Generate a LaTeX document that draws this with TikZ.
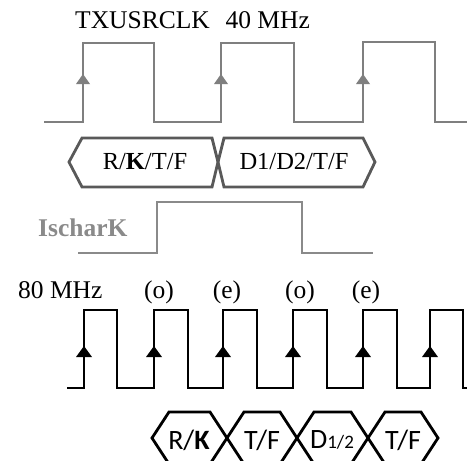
\documentclass[tikz,border=0pt]{standalone}
\usepackage{fontspec}
\setmainfont{Liberation Serif}
\newfontfamily\calibri{Carlito}
\definecolor{clkgrey}{HTML}{7F7F7F}
\definecolor{busgrey}{HTML}{595959}
\definecolor{flaggrey}{HTML}{8A8A8A}

\begin{document}
\begin{tikzpicture}[
    x=1pt, y=-1pt,
    wave/.style={draw=#1, line width=2.8pt, line join=miter},
    bus/.style={draw=#1, line width=2.8pt, line join=miter},
    edgetip/.style={fill=#1},
    lbl/.style={font=\fontsize{25.5}{30}\selectfont, anchor=base west, inner sep=0pt},
    phase/.style={font=\fontsize{25.5}{30}\selectfont, anchor=base, inner sep=0pt},
    buslbl/.style={font=\fontsize{24.5}{30}\selectfont, inner sep=0pt},
    symlbl/.style={font=\calibri\fontsize{28}{32}\selectfont, inner sep=0pt},
]
\useasboundingbox[fill=white] (0,0) rectangle (467,461);

% ════════════════════════════════════════
% TXUSRCLK 40 MHz
% ════════════════════════════════════════
\node[lbl] (txclk) at (75,28) {TXUSRCLK\hspace{0.62em}40 MHz};

\draw[wave=clkgrey] (44,122) -| (83,43) -| (154,122) -| (221,43) -| (294,122)
    -| (363,42) -| (435,122) -- (467,122);

% rising edges
\foreach \x in {83,221,363}
    \fill[edgetip=clkgrey] (\x-7,84) -- (\x+7,84) -- (\x,74) -- cycle;

% ════════════════════════════════════════
% 40 MHz data bus
% ════════════════════════════════════════
\draw[bus=busgrey] (69,162) -- (82,138) -- (212,138) -- (218,162) -- (212,187) -- (82,187) -- cycle;
\draw[bus=busgrey] (218,162) -- (224,138) -- (363,138) -- (375,162) -- (363,187) -- (224,187) -- cycle;

\node[buslbl] (hexrk) at (145,162) {R/\textbf{K}/T/F};
\node[buslbl] (hexdd) at (294,162) {D1/D2/T/F};

% ════════════════════════════════════════
% IscharK
% ════════════════════════════════════════
\node[lbl, text=flaggrey, font=\fontsize{25.5}{30}\selectfont\bfseries] (ischark) at (38,236) {IscharK};

\draw[wave=flaggrey] (78,253) -| (157,202) -| (302,253) -- (373,253);

% ════════════════════════════════════════
% 80 MHz clock
% ════════════════════════════════════════
\node[lbl] (fastclk) at (18,298) {80 MHz};

\node[phase] (odd1)  at (159,298) {(o)};
\node[phase] (even1) at (227,298) {(e)};
\node[phase] (odd2)  at (300,298) {(o)};
\node[phase] (even2) at (366,298) {(e)};

\draw[wave=black] (67,388) -| (84,310) -| (117,388) -| (154,310) -| (188,388)
    -| (223,310) -| (257,388) -| (293,310) -| (327,388) -| (363,310)
    -| (397,388) -| (430,310) -| (463,388) -- (467,388);

% rising edges
\foreach \x in {84,154,223,293,363,430}
    \fill[edgetip=black] (\x-8,357) -- (\x+8,357) -- (\x,346) -- cycle;

% ════════════════════════════════════════
% 80 MHz symbol bus
% ════════════════════════════════════════
\foreach \a/\b in {152/227, 227/297, 297/368, 368/438}
    \draw[bus=black] (\a,438) -- (\a+17,412) -- (\b-17,412) -- (\b,438)
        -- (\b-17,464) -- (\a+17,464) -- cycle;

\node[symlbl] (symrk) at (189,440) {R/\textbf{K}};
\node[symlbl] (symtf1) at (262,440) {T/F};
\node[symlbl] (symd) at (332,440) {D{\fontsize{19}{20}\selectfont1/2}};
\node[symlbl] (symtf2) at (403,440) {T/F};

\end{tikzpicture}
\end{document}
